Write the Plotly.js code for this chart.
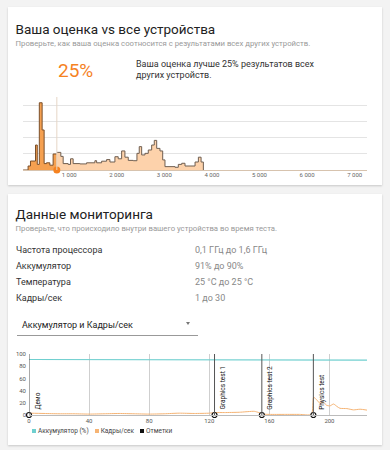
<!DOCTYPE html>
<html><head><meta charset="utf-8">
<script src="https://cdn.plot.ly/plotly-3.0.1.min.js"></script>
<style>
html,body{margin:0;padding:0;background:#f3f3f3;font-family:Roboto,"Noto Sans",sans-serif;}
#page{position:relative;width:390px;height:450px;overflow:hidden;}
.card{position:absolute;left:8px;width:374px;background:#fff;box-shadow:0 1px 2px rgba(0,0,0,0.18);}
.t{position:absolute;white-space:nowrap;line-height:1;}
#hist,#mon{position:absolute;left:0;}
</style></head>
<body><div id="page">
<div class="card" style="top:7px;height:178px;"></div>
<div class="card" style="top:194px;height:251px;"></div>

<div class="t" style="left:15.5px;top:22.6px;font-size:13.5px;color:#222;">Ваша оценка vs все устройства</div>
<div class="t" style="left:15.5px;top:39.5px;font-size:7.75px;color:#999;">Проверьте, как ваша оценка соотносится с результатами всех других устройств.</div>
<div class="t" style="left:58px;top:61px;font-size:19px;color:#f5821f;">25%</div>
<div class="t" style="left:136px;top:58.5px;font-size:9px;color:#333;line-height:11.5px;">Ваша оценка лучше 25% результатов всех<br>других устройств.</div>

<div class="t" style="left:15.5px;top:207.6px;font-size:13.5px;color:#222;">Данные мониторинга</div>
<div class="t" style="left:15.5px;top:224.5px;font-size:7.75px;color:#999;">Проверьте, что происходило внутри вашего устройства во время теста.</div>
<div id="rows"></div>
<div class="t" style="left:22px;top:320.7px;font-size:9px;color:#222;">Аккумулятор и Кадры/сек</div>
<div style="position:absolute;left:186px;top:322px;width:0;height:0;border-left:2.5px solid transparent;border-right:2.5px solid transparent;border-top:3px solid #777;"></div>
<div style="position:absolute;left:17px;top:335px;width:181px;height:1px;background:#999;"></div>

<div id="hist" style="top:90px;width:390px;height:100px;"></div>
<div id="mon" style="top:340px;width:390px;height:90px;"></div>
<div id="legend" style="position:absolute;left:32px;top:427px;font-size:6.5px;color:#444;white-space:nowrap;"></div>
</div>
<script>
// ---- Data ----
const yourPercent = 25;
const yourScore = 741;
const histScores = [32,137,187,293,330,373,432,474,524,594,663,741,825,874,979,1029,1084,1225,1366,1541,1577,1682,1787,1857,1962,2031,2103,2172,2242,2347,2425,2473,2524,2593,2663,2734,2789,2840,2909,2966,3014,3225,3294,3366,3435,3541,3646,3716,3773,3821];
const histHeights = [0,0.25,0.56,1.56,0.35,4.2,2.5,0.4,0.45,0.3,1.0,1.1,0.85,0.4,0.35,0.7,0.4,0.38,0.45,0.58,0.45,0.55,0.65,0.5,0.83,0.7,1.19,0.8,0.6,0.58,1.04,1.46,0.94,1.04,1.25,1.56,1.85,1.35,1.19,0.63,0.21,0.17,0.35,0.42,0.25,0.25,0.5,0.8,0.5,0];
const histTickVals = [1000,2000,3000,4000,5000,6000,7000];
const histTickText = ['1 000','2 000','3 000','4 000','5 000','6 000','7 000'];

const statLabels = ['Частота процессора','Аккумулятор','Температура','Кадры/сек'];
const statValues = ['0,1 ГГц до 1,6 ГГц','91% до 90%','25 °C до 25 °C','1 до 30'];

const batteryTime = [0,115,118,225];
const batteryValue = [91,91,90,90];
const fpsTime = [0,10,20,30,40,50,60,70,80,90,100,110,120,124,130,140,150,153,156,160,170,180,188,189.5,191.6,193.8,196,198,200.4,202.7,205,207,211.6,216,220.4,225];
const fpsValue = [3,2.5,2,2,1.5,2,2.5,2,1.5,2,3,2.5,3,4,4,4.5,6,4,1.5,1,1,1,1,29,24.6,19,21,16,15,18,14,11,10.5,8.4,9.5,8];
const markerTimes = [0,123.5,155,189.3];
const markerNames = ['Демо','Graphics test 1','Graphics test 2','Physics test'];
const legendNames = ['Аккумулятор (%)','Кадры/сек','Отметки'];

// ---- Stats rows ----
const rows = document.getElementById('rows');
const rowTops = [245.7,261.7,277.7,293.7];
statLabels.forEach((l,i)=>{
  rows.insertAdjacentHTML('beforeend',
   `<div class="t" style="left:16px;top:${rowTops[i]}px;font-size:9px;color:#333;">${l}</div>`+
   `<div class="t" style="left:195px;top:${rowTops[i]}px;font-size:9px;color:#888;">${statValues[i]}</div>`);
});

// ---- Histogram ----
const idx = histScores.findIndex(s => s >= yourScore);
const leftX = histScores.slice(0, idx).concat([yourScore]);
const leftY = histHeights.slice(0, idx).concat([histHeights[idx-1]]);
const rightX = histScores.slice(idx);
const rightY = histHeights.slice(idx);

Plotly.newPlot('hist', [
  {x: rightX, y: rightY, type:'scatter', mode:'lines', line:{shape:'hv', color:'#6f5e50', width:1}, fill:'tozeroy', fillcolor:'#fdd2ab', hoverinfo:'skip'},
  {x: leftX, y: leftY, type:'scatter', mode:'lines', line:{shape:'hv', color:'#7a4f2a', width:1}, fill:'tozeroy', fillcolor:'#f5a050', hoverinfo:'skip'},
  {x:[yourScore], y:[0], type:'scatter', mode:'markers', marker:{size:7, color:'#f58220'}, cliponaxis:false, hoverinfo:'skip'}
], {
  margin:{l:23, r:23, t:7, b:20},
  paper_bgcolor:'rgba(0,0,0,0)', plot_bgcolor:'rgba(0,0,0,0)',
  showlegend:false,
  xaxis:{range:[30,7260], tickvals:histTickVals, ticktext:histTickText, showgrid:false, zeroline:false, showline:false, ticks:'', tickfont:{size:6, color:'#666', family:'Roboto'}},
  yaxis:{range:[0,4.56], dtick:1, showgrid:true, gridcolor:'#e4e4e4', gridwidth:1, showticklabels:false, zeroline:true, zerolinecolor:'#d7c3ae', zerolinewidth:1, fixedrange:true},
  shapes:[{type:'line', xref:'x', yref:'paper', x0:yourScore, x1:yourScore, y0:0, y1:1, line:{color:'#e6d6c6', width:1}, layer:'above'}]
}, {staticPlot:true, displayModeBar:false});

// ---- Monitoring chart ----
const shapes = markerTimes.map(t => ({type:'line', xref:'x', yref:'y', x0:t, x1:t, y0:0, y1:100, line:{color:'#555', width:1}}));
const annotations = markerTimes.map((t,i) => ({x:t, y:0, xref:'x', yref:'y', text:markerNames[i], textangle:-90, showarrow:false, xanchor:'left', yanchor:'bottom', xshift:2, yshift:3, font:{size:6.5, color:'#111', family:'Roboto'}}));

Plotly.newPlot('mon', [
  {x: batteryTime, y: batteryValue, type:'scatter', mode:'lines', line:{color:'#6fcfcf', width:1.2}, hoverinfo:'skip'},
  {x: fpsTime, y: fpsValue, type:'scatter', mode:'lines', line:{color:'#f6b474', width:1, shape:'spline', smoothing:0.6}, hoverinfo:'skip'},
  {x: markerTimes, y: markerTimes.map(()=>0), type:'scatter', mode:'markers', marker:{size:5, color:'#fff', line:{color:'#111', width:1.2}}, cliponaxis:false, hoverinfo:'skip'}
], {
  margin:{l:29, r:23, t:14, b:15},
  paper_bgcolor:'rgba(0,0,0,0)', plot_bgcolor:'rgba(0,0,0,0)',
  showlegend:false,
  xaxis:{range:[0,225], dtick:40, tick0:0, showgrid:true, gridcolor:'#cfcfcf', gridwidth:1, zeroline:false, showline:true, linecolor:'#bbb', ticks:'', tickfont:{size:6, color:'#555', family:'Roboto'}},
  yaxis:{range:[0,100], dtick:20, showgrid:false, zeroline:false, showline:false, ticks:'', ticklabelstandoff:2, tickfont:{size:6, color:'#555', family:'Roboto'}},
  shapes: shapes,
  annotations: annotations
}, {staticPlot:true, displayModeBar:false});

// ---- Legend ----
const legendColors = ['#6fcfcf','#f6b474','#111'];
document.getElementById('legend').innerHTML = legendNames.map((n,i)=>
  `<span style="display:inline-block;width:4px;height:4px;background:${legendColors[i]};margin-right:2px;vertical-align:middle;"></span><span style="vertical-align:middle;margin-right:6px;">${n}</span>`).join('');
</script>
</body></html>
